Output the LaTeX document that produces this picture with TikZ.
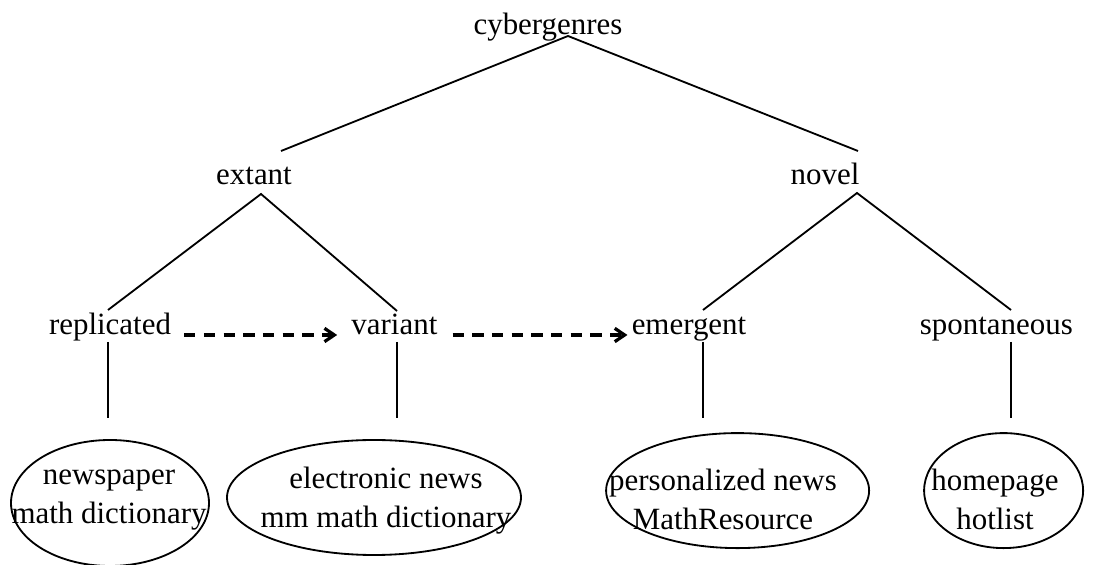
\documentclass[tikz,border=0pt]{standalone}
\usepackage{fontspec}
\setmainfont{Liberation Serif}
\usepackage{tikz}
\usetikzlibrary{positioning, shapes.geometric, arrows.meta, calc}
\tikzset{
    genre/.style={inner sep=0pt, anchor=base, font=\fontsize{22}{27.7}\selectfont},
    leaf/.style={inner sep=0pt, align=center, font=\fontsize{22}{27.7}\selectfont},
    oval/.style={ellipse, draw, line width=1.3pt, inner sep=0pt},
    branch/.style={line width=1.3pt},
    flow/.style={line width=2.3pt, dash pattern=on 8pt off 6pt, -{Straight Barb[length=7pt, width=9.5pt, line width=2.3pt]}}
}
\begin{document}
\begin{tikzpicture}
    \useasboundingbox (0,0) rectangle (27.375,14.125);

    % --- Nodes for Genres ---
    \node (cyber) [genre] at (13.7,13.25) {cybergenres};
    \node (extant) [genre] at (6.35,9.5) {extant};
    \node (novel) [genre] at (20.625,9.5) {novel};
    \node (replicated) [genre] at (2.75,5.75) {replicated};
    \node (variant) [genre] at (9.86,5.75) {variant};
    \node (emergent) [genre] at (17.225,5.75) {emergent};
    \node (spontaneous) [genre] at (24.91,5.75) {spontaneous};

    % --- Nodes for Examples ---
    \node (ovalA) [oval, minimum width=4.95cm, minimum height=3.15cm] at (2.75,1.55) {};
    \node (exA) [leaf] at (2.725,1.62) {newspaper\\math dictionary};
    \node (ovalB) [oval, minimum width=7.35cm, minimum height=2.875cm] at (9.35,1.6875) {};
    \node (exB) [leaf] at (9.65,1.6) {electronic news\\mm math dictionary};
    \node (ovalC) [oval, minimum width=6.575cm, minimum height=2.875cm] at (18.44,1.86) {};
    \node (exC) [leaf] at (18.075,1.65) {personalized news\\MathResource};
    \node (ovalD) [oval, minimum width=3.975cm, minimum height=2.875cm] at (25.09,1.86) {};
    \node (exD) [leaf] at (24.875,1.65) {homepage\\hotlist};

    % --- Branches ---
    \draw[branch] ($(extant.base)+(0.675,0.85)$) -- ($(cyber.base)+(0.5,-0.025)$) -- ($(novel.base)+(0.825,0.85)$);
    \draw[branch] ($(replicated.base)+(-0.05,0.625)$) -- ($(extant.base)+(0.175,-0.225)$) -- ($(variant.base)+(0.065,0.6)$);
    \draw[branch] ($(emergent.base)+(0.35,0.625)$) -- ($(novel.base)+(0.8,-0.2)$) -- ($(spontaneous.base)+(0.365,0.625)$);

    % --- Links to Examples ---
    \draw[branch] ($(replicated.base)+(-0.05,-0.175)$) -- ++(0,-1.9);
    \draw[branch] ($(variant.base)+(0.065,-0.175)$) -- ++(0,-1.9);
    \draw[branch] ($(emergent.base)+(0.35,-0.175)$) -- ++(0,-1.9);
    \draw[branch] ($(spontaneous.base)+(0.365,-0.175)$) -- ++(0,-1.9);

    % --- Evolution ---
    \draw[flow] ($(replicated.base east)+(0.325,0)$) -- ($(variant.base west)+(-0.35,0)$);
    \draw[flow] ($(variant.base east)+(0.375,0)$) -- ($(emergent.base west)+(-0.1,0)$);
\end{tikzpicture}
\end{document}
